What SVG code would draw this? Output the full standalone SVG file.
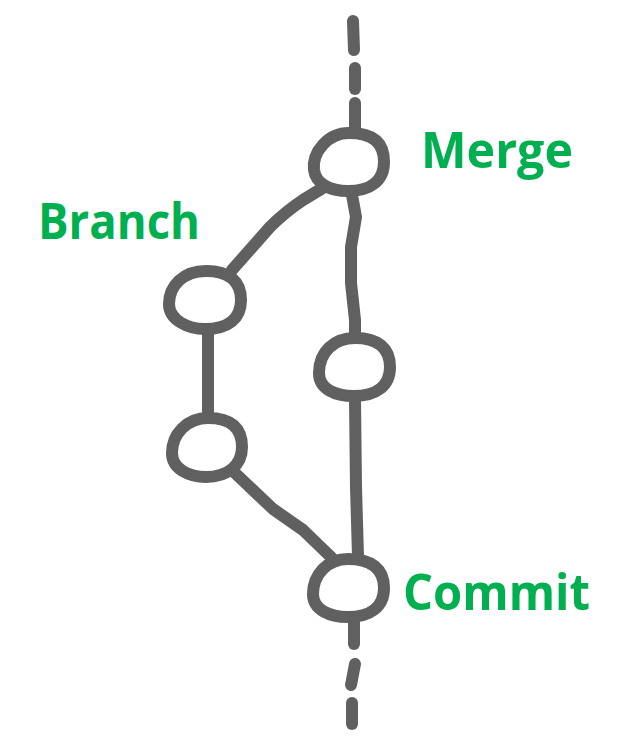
<svg xmlns="http://www.w3.org/2000/svg" width="628" height="742" viewBox="0 0 628 742">
<style>
.ln{fill:none;stroke:#606060;stroke-width:12;stroke-linecap:round;stroke-linejoin:round}
.nd{fill:#ffffff;stroke:#606060;stroke-width:12}
.lb{font-family:"Open Sans","Liberation Sans",sans-serif;font-weight:bold;font-size:50px;fill:#00B050}
</style>
<rect width="628" height="742" fill="#ffffff"/>
<g id="connectors">
<path class="ln" d="M353 21 L354 50"/>
<path class="ln" d="M355 68 L355 89"/>
<path class="ln" d="M355 103 L355 130"/>
<path class="ln" d="M326 186 L303 200 Q285 212 270 227 L232 270"/>
<path class="ln" d="M352 195 L356 217 L351 247 L351 283 L355 320 L355 335"/>
<path class="ln" d="M208 332 L208 414"/>
<path class="ln" d="M355 400 L356 487 L358 556"/>
<path class="ln" d="M235 473 L273 509 L303 530 L332 558"/>
<path class="ln" d="M354 620 L354 644"/>
<path class="ln" d="M355 664 L351 685"/>
<path class="ln" d="M352 703 L352 724"/>
</g>
<g id="merge">
<path class="nd" d="M349 133 C372 133 384 142 384 162 C384 181 370 191 348 191 C330 191 316 184 314 170 C312 152 328 133 349 133 Z"/>
<text class="lb" x="421" y="168" textLength="152" lengthAdjust="spacingAndGlyphs">Merge</text>
</g>
<g id="branch">
<path class="nd" d="M206 271 C229 271 241 281 241 300 C241 319 228 329 205 329 C188 329 169 320 169 304 C169 286 183 271 206 271 Z"/>
<text class="lb" x="38" y="239" textLength="162" lengthAdjust="spacingAndGlyphs">Branch</text>
</g>
<g id="right-commit">
<path class="nd" d="M355 338 C378 338 390 348 390 367 C390 386 376 396 354 396 C335 396 319 389 319 373 C319 352 334 338 355 338 Z"/>
</g>
<g id="branch-commit">
<path class="nd" d="M208 418 C231 418 242 428 242 447 C242 465 228 477 206 477 C189 477 172 469 172 453 C172 434 187 418 208 418 Z"/>
</g>
<g id="commit">
<path class="nd" d="M348 559 C372 559 384 569 384 588 C384 607 370 617 348 617 C330 617 313 610 313 594 C313 575 327 559 348 559 Z"/>
<text class="lb" x="403" y="610" textLength="187" lengthAdjust="spacingAndGlyphs">Commit</text>
</g>
</svg>
